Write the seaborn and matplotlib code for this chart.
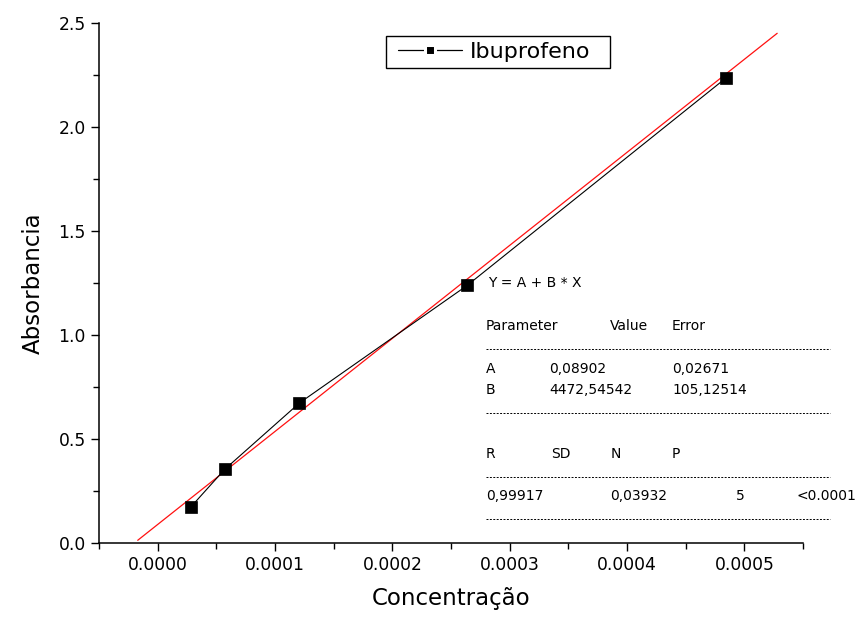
import numpy as np
import pandas as pd
import seaborn as sns
import matplotlib
matplotlib.use("Agg")
import matplotlib.pyplot as plt
from matplotlib.lines import Line2D
from matplotlib.patches import Rectangle
from matplotlib.ticker import MultipleLocator, FormatStrFormatter

# Calibration data for ibuprofen
concentracao = [0.0000284, 0.0000571, 0.0001208, 0.0002637, 0.0004842]
absorbancia = [0.174, 0.354, 0.673, 1.238, 2.235]

# Linear fit parameters
fit_A = 0.08902
fit_B = 4472.54542
fit_x_range = [-0.000017, 0.000528]

fit_table = [
    ("Parameter", "Value", "Error"),
    ("A", "0,08902", "0,02671"),
    ("B", "4472,54542", "105,12514"),
]
stats_header = ["R", "SD", "N", "P"]
stats_values = ["0,99917", "0,03932", "5", "<0.0001"]

sns.set_theme(style="ticks")
plt.rcParams["font.family"] = ["DejaVu Sans"]
plt.rcParams["text.color"] = "black"
plt.rcParams["axes.labelcolor"] = "black"

W, H = 857, 622
fig = plt.figure(figsize=(W / 100, H / 100), dpi=100)
ax = fig.add_axes([99 / W, 1 - 543 / H, (803 - 99) / W, (543 - 23) / H])

df = pd.DataFrame({"Concentração": concentracao, "Absorbancia": absorbancia})
fit_x = np.linspace(fit_x_range[0], fit_x_range[1], 50)
fit_df = pd.DataFrame({"x": fit_x, "y": fit_A + fit_B * fit_x})

sns.lineplot(data=df, x="Concentração", y="Absorbancia", ax=ax, color="black",
             linewidth=0.8, marker="s", markersize=8, markeredgecolor="black",
             markeredgewidth=0.5, sort=False, zorder=3)
sns.lineplot(data=fit_df, x="x", y="y", ax=ax, color="#ff1010", linewidth=0.9, zorder=2)

ax.set_xlim(-0.00005, 0.00055)
ax.set_ylim(0.0, 2.5)
ax.xaxis.set_major_locator(MultipleLocator(0.0001))
ax.xaxis.set_minor_locator(MultipleLocator(0.00005))
ax.yaxis.set_major_locator(MultipleLocator(0.5))
ax.yaxis.set_minor_locator(MultipleLocator(0.25))
ax.xaxis.set_major_formatter(FormatStrFormatter("%.4f"))
ax.yaxis.set_major_formatter(FormatStrFormatter("%.1f"))
ax.tick_params(which="major", direction="out", length=6, width=1, labelsize=12.3,
               colors="black", labelcolor="black")
ax.tick_params(which="minor", direction="out", length=4, width=1, colors="black")
for s in ("top", "right"):
    ax.spines[s].set_visible(False)
for s in ("left", "bottom"):
    ax.spines[s].set_linewidth(1.1)
    ax.spines[s].set_color("black")

ax.set_xlabel("Concentração", fontsize=16.5, labelpad=9)
ax.set_ylabel("Absorbancia", fontsize=16.5, labelpad=10)

# Legend: line with a square marker separated from the line by small gaps
handle = Line2D([], [], color="black", linewidth=0.9, marker="s", markersize=6.5,
                markerfacecolor="black", markeredgecolor="white", markeredgewidth=2.2)
fig.add_artist(Rectangle((386 / W, 1 - 68 / H), (610 - 386) / W, (68 - 36) / H,
                         transform=fig.transFigure, facecolor="white",
                         edgecolor="black", linewidth=1.0, zorder=4))
leg = fig.legend([handle], ["Ibuprofeno"], loc="center left",
                 bbox_to_anchor=(398 / W, 1 - 52 / H), frameon=False, fontsize=16,
                 handlelength=2.9, handletextpad=0.35, borderpad=0, borderaxespad=0)
leg.set_zorder(5)


def ftext(x, y, s, size=10):
    fig.text(x / W, 1 - y / H, s, fontsize=size, va="center", ha="left", color="black")


def dashed(y, x0=486, x1=830):
    fig.add_artist(Line2D([x0 / W, x1 / W], [1 - y / H, 1 - y / H],
                          transform=fig.transFigure, color="black",
                          linewidth=0.7, linestyle=(0, (2, 1.5))))


ftext(488, 283, "Y = A + B * X")
for (a, b, c), y in zip(fit_table, [326, 369, 390]):
    ftext(486, y, a)
    ftext(549 if y > 330 else 610, y, b)
    ftext(672, y, c)
dashed(349)
dashed(413)
for s, x in zip(stats_header, [486, 551, 611, 672]):
    ftext(x, 454, s)
dashed(477)
for s, x in zip(stats_values, [486, 610, 736, 796]):
    ftext(x, 496, s)
dashed(519)

fig.savefig("out.png", dpi=100)
